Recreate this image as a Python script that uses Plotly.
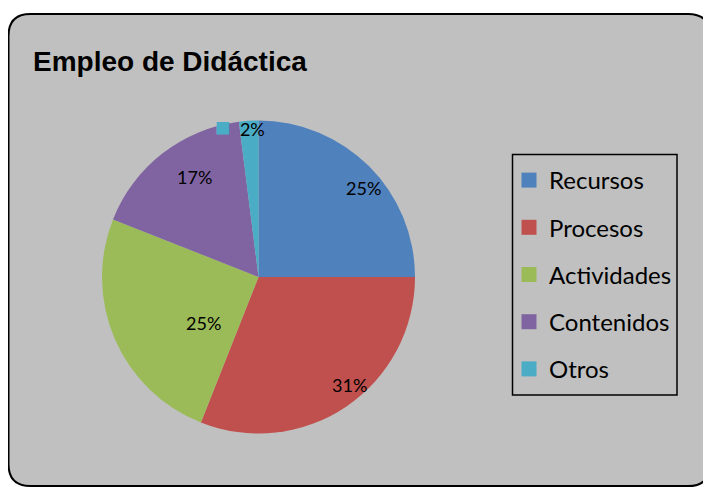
import math
import plotly.graph_objects as go

# ---- data ----
categories = ["Recursos", "Procesos", "Actividades", "Contenidos", "Otros"]
values = [25, 31, 25, 17, 2]
title_text = "Empleo de Didáctica"

# ---- style ----
colors = ["#4F81BD", "#C0504D", "#9BBB59", "#8064A2", "#4BACC6"]
# label placement (Excel "best fit" look): radial fraction and angular nudge (deg)
label_rfrac = [0.88, 0.90, 0.46, 0.76, 0.97]
label_dang = [4.7, -5.9, -16.6, 5.4, -3.4]

OFF = 8  # page body margin
W, H = 703, 479


def px(x):  # page pixel -> paper
    return (x - OFF) / W


def py(y):
    return 1 - (y - OFF) / H


# pie geometry on page (pixels)
CX, CY, R = 258.5, 277.0, 156.5

fig = go.Figure()

fig.add_trace(go.Pie(
    labels=categories,
    values=values,
    sort=False,
    direction="clockwise",
    rotation=0,
    marker=dict(colors=colors, line=dict(width=0)),
    textinfo="none",
    domain=dict(x=[px(CX - R), px(CX + R)], y=[py(CY + R), py(CY - R)]),
    showlegend=False,
    hoverinfo="label+percent",
))

# legend entries (one group per category for spacing)
for cat, col in zip(categories, colors):
    fig.add_trace(go.Scatter(
        x=[None], y=[None], mode="markers", name=cat,
        marker=dict(symbol="square", size=15, color=col),
        legendgroup=cat, showlegend=True,
    ))

# data labels computed from the values
total = sum(values)
annotations = []
cum = 0.0
for i, (cat, v) in enumerate(zip(categories, values)):
    mid = (cum + v / 2) / total * 360 + label_dang[i]
    cum += v
    rr = R * label_rfrac[i]
    lx = CX + rr * math.sin(math.radians(mid))
    ly = CY - rr * math.cos(math.radians(mid))
    pct = f"{v / total * 100:.0f}%"
    if i == len(values) - 1:
        txt = (f'<span style="color:{colors[i]};font-size:26px">■</span>'
               f'&nbsp;&nbsp;{pct}')
    else:
        txt = pct
    annotations.append(dict(
        text=txt, x=px(lx), y=py(ly), xref="paper", yref="paper",
        xanchor="center", yanchor="middle", showarrow=False,
        font=dict(family="Lato, Carlito, sans-serif", size=18, color="black"),
    ))

annotations.append(dict(
    text=f"<b>{title_text}</b>", x=px(31), y=py(61),
    xref="paper", yref="paper", xanchor="left", yanchor="middle",
    showarrow=False,
    font=dict(family="Liberation Sans, Arial, sans-serif", size=28, color="black"),
))

# rounded chart frame
x0, x1, y0, y1, r = 8.5, 710, 14, 486, 22
path = (
    f"M {px(x0 + r)},{py(y0)} L {px(x1 - r)},{py(y0)} "
    f"Q {px(x1)},{py(y0)} {px(x1)},{py(y0 + r)} "
    f"L {px(x1)},{py(y1 - r)} Q {px(x1)},{py(y1)} {px(x1 - r)},{py(y1)} "
    f"L {px(x0 + r)},{py(y1)} Q {px(x0)},{py(y1)} {px(x0)},{py(y1 - r)} "
    f"L {px(x0)},{py(y0 + r)} Q {px(x0)},{py(y0)} {px(x0 + r)},{py(y0)} Z"
)

shapes = [
    dict(type="path", path=path, xref="paper", yref="paper",
         fillcolor="#C0C0C0", line=dict(color="black", width=2), layer="below"),
    # legend box
    dict(type="rect", xref="paper", yref="paper",
         x0=px(512.5), x1=px(677), y0=py(395), y1=py(154.5),
         line=dict(color="black", width=1.5), fillcolor="rgba(0,0,0,0)", layer="below"),
]

fig.update_layout(
    width=W, height=H,
    margin=dict(l=0, r=0, t=0, b=0),
    paper_bgcolor="white",
    plot_bgcolor="rgba(0,0,0,0)",
    xaxis=dict(visible=False),
    yaxis=dict(visible=False),
    shapes=shapes,
    annotations=annotations,
    legend=dict(
        x=px(509), y=py(158), xanchor="left", yanchor="top",
        bgcolor="rgba(0,0,0,0)", borderwidth=0,
        font=dict(family="Lato, Carlito, sans-serif", size=24, color="black"),
        tracegroupgap=13,
    ),
    hovermode=False,
)

fig.write_html("out.html")
